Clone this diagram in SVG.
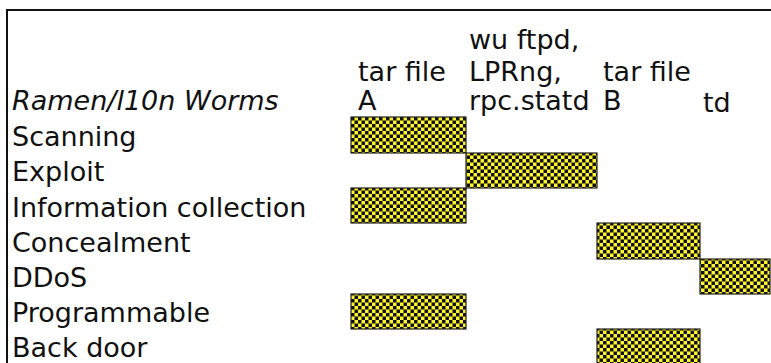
<svg xmlns="http://www.w3.org/2000/svg" width="771" height="363" viewBox="0 0 771 363">
<style>
text{font-family:"DejaVu Sans",Verdana,sans-serif;font-size:27px;fill:#111}
.it{font-style:italic}
.bar{fill:url(#chk);stroke:#222;stroke-width:1.2}
</style>
<defs>
<pattern id="chk" patternUnits="userSpaceOnUse" width="7" height="7" x="351" y="117">
<rect width="7" height="7" fill="#fff52e"/>
<rect width="3.5" height="3.5" fill="#111"/>
<rect x="3.5" y="3.5" width="3.5" height="3.5" fill="#111"/>
</pattern>
</defs>
<rect width="771" height="363" fill="#fff"/>
<path d="M7,363 V10 H771" fill="none" stroke="#111" stroke-width="2"/>
<g id="header">
<text class="it" x="12" y="110">Ramen/l10n Worms</text>
<text x="358" y="81">tar file</text>
<text x="358" y="110">A</text>
<text x="469" y="49">wu ftpd,</text>
<text x="469" y="81">LPRng,</text>
<text x="469" y="110">rpc.statd</text>
<text x="603" y="81">tar file</text>
<text x="603" y="110">B</text>
<text x="703" y="112">td</text>
</g>
<g id="rows">
<text x="12" y="146">Scanning</text>
<text x="12" y="181">Exploit</text>
<text x="12" y="217">Information collection</text>
<text x="12" y="252">Concealment</text>
<text x="12" y="287">DDoS</text>
<text x="12" y="322">Programmable</text>
<text x="12" y="357">Back door</text>
</g>
<g id="bars">
<rect class="bar" x="351" y="117" width="115" height="36"/>
<rect class="bar" x="466" y="153" width="131" height="35"/>
<rect class="bar" x="351" y="188" width="115" height="35"/>
<rect class="bar" x="597" y="223" width="103" height="36"/>
<rect class="bar" x="700" y="259" width="70" height="35"/>
<rect class="bar" x="351" y="294" width="115" height="35"/>
<rect class="bar" x="597" y="329" width="103" height="36"/>
</g>
</svg>
